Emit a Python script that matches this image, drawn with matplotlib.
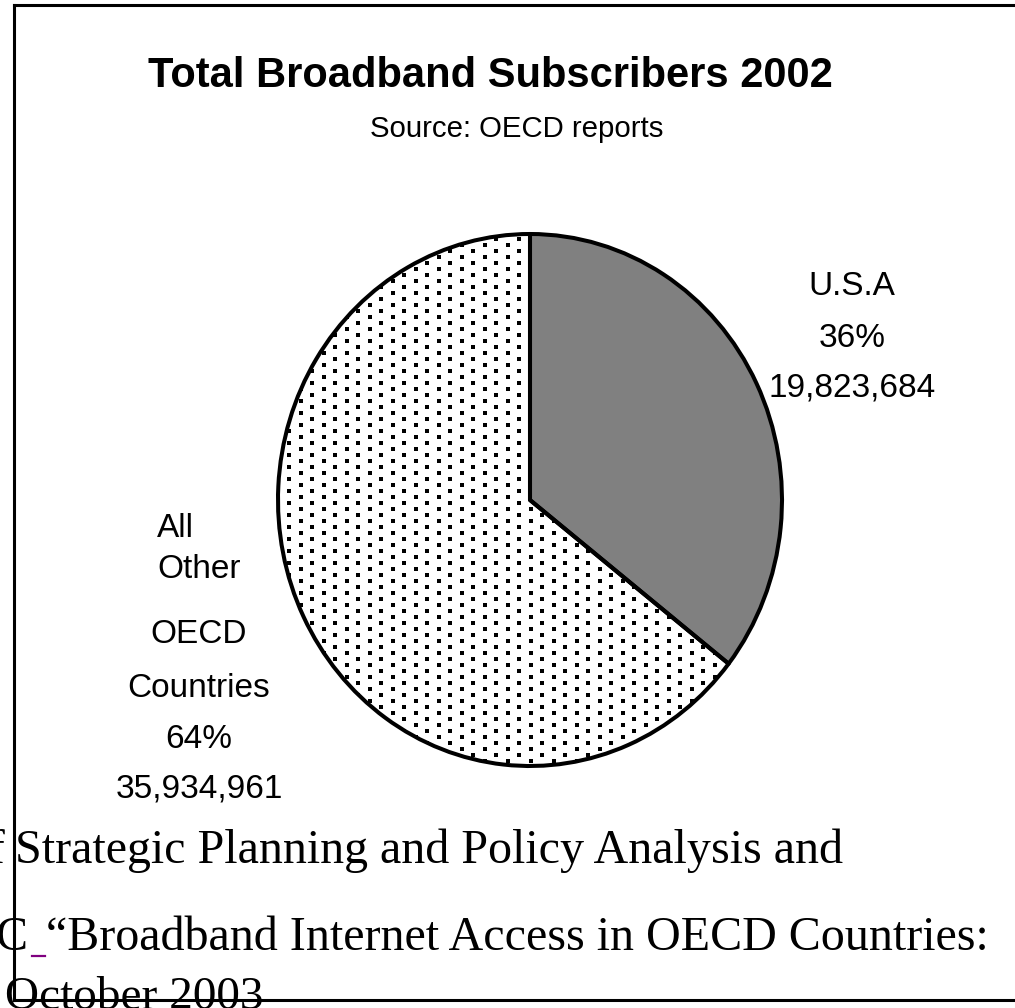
import numpy as np
import matplotlib
matplotlib.use("Agg")
import matplotlib.pyplot as plt
from matplotlib.patches import Wedge
from matplotlib.lines import Line2D
from matplotlib.transforms import IdentityTransform

# Broadband subscribers, 2002
categories = ["U.S.A", "All Other OECD Countries"]
subscribers = [19823684, 35934961]
percent_labels = ["36%", "64%"]
count_labels = ["19,823,684", "35,934,961"]

W, H = 1015, 1008
fig = plt.figure(figsize=(W / 100, H / 100), dpi=100)
fig.patch.set_facecolor("white")


def fx(x):
    return x / W


def fy(y):
    return 1 - y / H


SANS = "Liberation Sans"
SERIF = "Liberation Serif"

# Pie axes (slightly taller than wide)
ax = fig.add_axes([fx(278), fy(766), 504 / W, 532 / H])
wedges, _ = ax.pie(subscribers, startangle=90, counterclock=False,
                   radius=1, colors=["#808080", "white"],
                   wedgeprops=dict(edgecolor="none", linewidth=0))
ax.set_aspect("auto")
ax.set_xlim(-1, 1)
ax.set_ylim(-1, 1)
ax.axis("off")
for w in wedges:
    w.set_clip_on(False)

# Dotted fill for the "other countries" slice
step_x, step_y = 11.5, 12.0
cols = np.arange(404 - step_x * 12, 800, step_x)
pts_x, pts_y = [], []
for i, cx in enumerate(cols):
    off = (i % 2) * (step_y / 2)
    rows = np.arange(407 - off - step_y * 17, 790, step_y)
    pts_x.extend([cx] * len(rows))
    pts_y.extend(list(rows))
pts_x = np.array(pts_x)
pts_y = H - np.array(pts_y)
sc = ax.scatter(pts_x, pts_y, s=6, marker="s", color="black", linewidths=0,
                transform=IdentityTransform(), zorder=2)
sc.set_clip_path(wedges[1])

# Slice outlines on top
for w in wedges:
    ax.add_patch(Wedge(w.center, w.r, w.theta1, w.theta2, facecolor="none",
                       edgecolor="black", linewidth=2.9, zorder=3,
                       joinstyle="round", clip_on=False))

# Titles
fig.text(fx(490), fy(87), "Total Broadband Subscribers 2002", ha="center",
         va="baseline", fontsize=30, fontweight="bold", family=SANS)
fig.text(fx(517), fy(137), "Source: OECD reports", ha="center",
         va="baseline", fontsize=21.2, family=SANS)

# U.S.A labels
usa_lines = [categories[0], percent_labels[0], count_labels[0]]
for txt, yb in zip(usa_lines, [295, 347, 397]):
    fig.text(fx(852), fy(yb), txt, ha="center", va="baseline",
             fontsize=24, family=SANS)

# Other OECD labels
other_words = categories[1].split(" ")
fig.text(fx(157), fy(537), other_words[0], ha="left", va="baseline",
         fontsize=24, family=SANS)
other_lines = [other_words[1], other_words[2], other_words[3],
               percent_labels[1], count_labels[1]]
for txt, yb in zip(other_lines, [578, 643, 697, 748, 797]):
    fig.text(fx(199), fy(yb), txt, ha="center", va="baseline",
             fontsize=24, family=SANS)

# Frame
lw_frame = 2.2
fig.add_artist(Line2D([fx(14), fx(W + 20)], [fy(5), fy(5)],
                      transform=fig.transFigure, color="black", lw=lw_frame))
fig.add_artist(Line2D([fx(14), fx(14)], [fy(5), fy(1000)],
                      transform=fig.transFigure, color="black", lw=lw_frame))
fig.add_artist(Line2D([fx(14), fx(W + 20)], [fy(1000), fy(1000)],
                      transform=fig.transFigure, color="black", lw=lw_frame))

# Citation text overlapping the bottom of the frame
fig.text(fx(5), fy(863), "Office of", ha="right", va="baseline",
         fontsize=34.6, family=SERIF)
fig.text(fx(15), fy(863), "Strategic Planning and Policy Analysis and",
         ha="left", va="baseline", fontsize=34.6, family=SERIF)
fig.text(fx(28), fy(950), "C", ha="right", va="baseline",
         fontsize=34.6, family=SERIF)
fig.text(fx(46), fy(950), "\u201cBroadband Internet Access in OECD Countries:",
         ha="left", va="baseline", fontsize=34.6, family=SERIF)
fig.add_artist(Line2D([fx(32), fx(45)], [fy(956), fy(956)],
                      transform=fig.transFigure, color="#800080", lw=1.6))
fig.text(fx(5), fy(1009), "October 2003", ha="left", va="baseline",
         fontsize=34, family=SERIF)

fig.savefig("out.png", dpi=100, facecolor="white")
